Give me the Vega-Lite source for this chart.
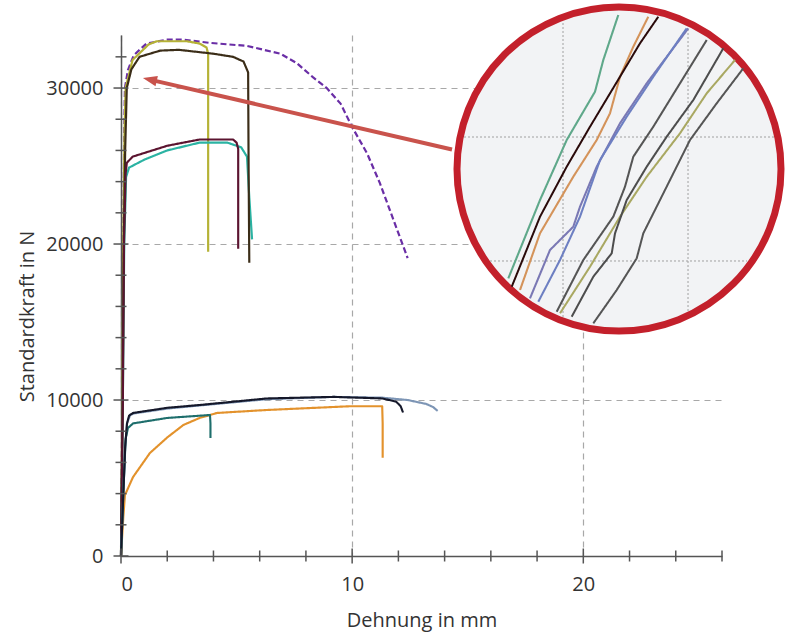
{
  "$schema": "https://vega.github.io/schema/vega-lite/v6.json",
  "autosize": {"type": "none"},
  "width": 601,
  "height": 521,
  "padding": {"left": 121, "top": 35, "right": 75, "bottom": 76},
  "background": "white",
  "config": {
    "view": {"stroke": null},
    "axis": {
      "labelFont": "Open Sans", "labelFontSize": 20, "labelColor": "#333333",
      "titleFont": "Open Sans", "titleFontSize": 20, "titleFontWeight": "normal", "titleColor": "#333333",
      "domainColor": "#555555", "domainWidth": 1.5,
      "gridColor": "#a8a8a8", "gridDash": [6, 5], "gridWidth": 1.2
    }
  },
  "datasets": {
    "main": [
      {"s":"P","i":0,"x":0,"y":0},{"s":"P","i":1,"x":0.06,"y":10000},{"s":"P","i":2,"x":0.1,"y":20000},{"s":"P","i":3,"x":0.14,"y":27000},{"s":"P","i":4,"x":0.17,"y":30000},{"s":"P","i":5,"x":0.3,"y":31150},{"s":"P","i":6,"x":0.55,"y":32100},{"s":"P","i":7,"x":1.1,"y":32850},{"s":"P","i":8,"x":2.0,"y":33100},{"s":"P","i":9,"x":2.7,"y":33100},{"s":"P","i":10,"x":3.8,"y":32900},{"s":"P","i":11,"x":5.45,"y":32700},{"s":"P","i":12,"x":6.9,"y":32200},{"s":"P","i":13,"x":7.6,"y":31600},{"s":"P","i":14,"x":8.3,"y":30700},{"s":"P","i":15,"x":8.9,"y":30000},{"s":"P","i":16,"x":9.5,"y":29000},{"s":"P","i":17,"x":10.0,"y":27500},{"s":"P","i":18,"x":10.65,"y":25800},{"s":"P","i":19,"x":11.2,"y":23900},{"s":"P","i":20,"x":11.8,"y":21500},{"s":"P","i":21,"x":12.4,"y":19100},
      {"s":"Y","i":0,"x":0,"y":0},{"s":"Y","i":1,"x":0.06,"y":10000},{"s":"Y","i":2,"x":0.1,"y":20000},{"s":"Y","i":3,"x":0.15,"y":27000},{"s":"Y","i":4,"x":0.2,"y":30000},{"s":"Y","i":5,"x":0.5,"y":31800},{"s":"Y","i":6,"x":1.2,"y":32800},{"s":"Y","i":7,"x":1.55,"y":33000},{"s":"Y","i":8,"x":2.85,"y":33000},{"s":"Y","i":9,"x":3.4,"y":32850},{"s":"Y","i":10,"x":3.7,"y":32600},{"s":"Y","i":11,"x":3.77,"y":32200},{"s":"Y","i":12,"x":3.77,"y":19500},
      {"s":"T","i":0,"x":0,"y":0},{"s":"T","i":1,"x":0.08,"y":10000},{"s":"T","i":2,"x":0.14,"y":20000},{"s":"T","i":3,"x":0.22,"y":24300},{"s":"T","i":4,"x":0.35,"y":24900},{"s":"T","i":5,"x":1.0,"y":25400},{"s":"T","i":6,"x":2.0,"y":26000},{"s":"T","i":7,"x":3.4,"y":26500},{"s":"T","i":8,"x":4.6,"y":26500},{"s":"T","i":9,"x":5.2,"y":26200},{"s":"T","i":10,"x":5.45,"y":25600},{"s":"T","i":11,"x":5.55,"y":23000},{"s":"T","i":12,"x":5.67,"y":20300},
      {"s":"K","i":0,"x":0,"y":0},{"s":"K","i":1,"x":0.07,"y":10000},{"s":"K","i":2,"x":0.12,"y":20000},{"s":"K","i":3,"x":0.18,"y":26000},{"s":"K","i":4,"x":0.25,"y":30000},{"s":"K","i":5,"x":0.45,"y":31200},{"s":"K","i":6,"x":0.8,"y":32000},{"s":"K","i":7,"x":1.7,"y":32400},{"s":"K","i":8,"x":2.5,"y":32450},{"s":"K","i":9,"x":4.0,"y":32200},{"s":"K","i":10,"x":4.85,"y":32000},{"s":"K","i":11,"x":5.3,"y":31700},{"s":"K","i":12,"x":5.5,"y":31000},{"s":"K","i":13,"x":5.52,"y":25000},{"s":"K","i":14,"x":5.55,"y":18800},
      {"s":"M","i":0,"x":0,"y":0},{"s":"M","i":1,"x":0.08,"y":10000},{"s":"M","i":2,"x":0.13,"y":20000},{"s":"M","i":3,"x":0.2,"y":24500},{"s":"M","i":4,"x":0.25,"y":25200},{"s":"M","i":5,"x":0.5,"y":25600},{"s":"M","i":6,"x":2.0,"y":26300},{"s":"M","i":7,"x":3.4,"y":26700},{"s":"M","i":8,"x":4.85,"y":26700},{"s":"M","i":9,"x":5.0,"y":26500},{"s":"M","i":10,"x":5.07,"y":26100},{"s":"M","i":11,"x":5.07,"y":19700},
      {"s":"O","i":0,"x":0,"y":0},{"s":"O","i":1,"x":0.1,"y":2500},{"s":"O","i":2,"x":0.17,"y":3900},{"s":"O","i":3,"x":0.52,"y":5060},{"s":"O","i":4,"x":1.25,"y":6600},{"s":"O","i":5,"x":2.0,"y":7600},{"s":"O","i":6,"x":2.7,"y":8400},{"s":"O","i":7,"x":3.4,"y":8850},{"s":"O","i":8,"x":4.15,"y":9170},{"s":"O","i":9,"x":6.3,"y":9360},{"s":"O","i":10,"x":9.9,"y":9600},{"s":"O","i":11,"x":11.3,"y":9600},{"s":"O","i":12,"x":11.32,"y":8500},{"s":"O","i":13,"x":11.32,"y":6300},
      {"s":"L","i":0,"x":0,"y":0},{"s":"L","i":1,"x":0.1,"y":4000},{"s":"L","i":2,"x":0.18,"y":7000},{"s":"L","i":3,"x":0.26,"y":8500},{"s":"L","i":4,"x":0.4,"y":9050},{"s":"L","i":5,"x":0.6,"y":9150},{"s":"L","i":6,"x":2.0,"y":9450},{"s":"L","i":7,"x":3.4,"y":9650},{"s":"L","i":8,"x":6.3,"y":10050},{"s":"L","i":9,"x":9.2,"y":10200},{"s":"L","i":10,"x":11.3,"y":10150},{"s":"L","i":11,"x":12.4,"y":10000},{"s":"L","i":12,"x":13.2,"y":9750},{"s":"L","i":13,"x":13.5,"y":9550},{"s":"L","i":14,"x":13.7,"y":9300},
      {"s":"D","i":0,"x":0,"y":0},{"s":"D","i":1,"x":0.1,"y":4000},{"s":"D","i":2,"x":0.2,"y":7500},{"s":"D","i":3,"x":0.3,"y":8200},{"s":"D","i":4,"x":0.52,"y":8500},{"s":"D","i":5,"x":2.0,"y":8850},{"s":"D","i":6,"x":3.85,"y":9040},{"s":"D","i":7,"x":3.87,"y":8500},{"s":"D","i":8,"x":3.87,"y":7560},
      {"s":"B","i":0,"x":0,"y":0},{"s":"B","i":1,"x":0.1,"y":4000},{"s":"B","i":2,"x":0.18,"y":7000},{"s":"B","i":3,"x":0.26,"y":8500},{"s":"B","i":4,"x":0.35,"y":9000},{"s":"B","i":5,"x":0.52,"y":9170},{"s":"B","i":6,"x":2.0,"y":9500},{"s":"B","i":7,"x":3.4,"y":9680},{"s":"B","i":8,"x":6.3,"y":10100},{"s":"B","i":9,"x":9.2,"y":10200},{"s":"B","i":10,"x":11.3,"y":10100},{"s":"B","i":11,"x":11.9,"y":9900},{"s":"B","i":12,"x":12.1,"y":9600},{"s":"B","i":13,"x":12.2,"y":9200}
    ],
    "inset": [
      {"s":"iA","i":0,"x":16.756,"y":17802},{"s":"iA","i":1,"x":18.127,"y":22822},{"s":"iA","i":2,"x":19.282,"y":26669},{"s":"iA","i":3,"x":20.506,"y":29765},{"s":"iA","i":4,"x":20.865,"y":31797},{"s":"iA","i":5,"x":21.514,"y":34682},
      {"s":"iC","i":0,"x":17.262,"y":17052},{"s":"iC","i":1,"x":18.127,"y":20687},{"s":"iC","i":2,"x":19.567,"y":24316},{"s":"iC","i":3,"x":20.58,"y":26669},{"s":"iC","i":4,"x":21.155,"y":28380},{"s":"iC","i":5,"x":21.588,"y":30727},{"s":"iC","i":6,"x":22.163,"y":32650},{"s":"iC","i":7,"x":22.812,"y":34573},
      {"s":"iD","i":0,"x":17.694,"y":16520},{"s":"iD","i":1,"x":18.559,"y":19617},{"s":"iD","i":2,"x":19.567,"y":21110},{"s":"iD","i":3,"x":19.857,"y":22393},{"s":"iD","i":4,"x":20.58,"y":24957},{"s":"iD","i":5,"x":21.588,"y":27739},{"s":"iD","i":6,"x":22.743,"y":30303},{"s":"iD","i":7,"x":24.543,"y":33829},
      {"s":"iE","i":0,"x":18.053,"y":16302},{"s":"iE","i":1,"x":18.992,"y":18976},{"s":"iE","i":2,"x":19.857,"y":21752},{"s":"iE","i":3,"x":20.722,"y":25386},{"s":"iE","i":4,"x":21.878,"y":28162},{"s":"iE","i":5,"x":23.028,"y":30727},{"s":"iE","i":6,"x":24.473,"y":33829},
      {"s":"iF","i":0,"x":18.849,"y":15661},{"s":"iF","i":1,"x":20.0,"y":18976},{"s":"iF","i":2,"x":21.298,"y":21752},{"s":"iF","i":3,"x":21.804,"y":23675},{"s":"iF","i":4,"x":22.163,"y":25598},{"s":"iF","i":5,"x":23.028,"y":27521},{"s":"iF","i":6,"x":24.183,"y":30303},{"s":"iF","i":7,"x":25.339,"y":33079},
      {"s":"iG","i":0,"x":18.992,"y":15559},{"s":"iG","i":1,"x":20.29,"y":18546},{"s":"iG","i":2,"x":21.588,"y":21752},{"s":"iG","i":3,"x":22.743,"y":24316},{"s":"iG","i":4,"x":24.183,"y":27098},{"s":"iG","i":5,"x":25.339,"y":29662},{"s":"iG","i":6,"x":26.563,"y":31797},
      {"s":"iH","i":0,"x":19.498,"y":15341},{"s":"iH","i":1,"x":20.433,"y":17905},{"s":"iH","i":2,"x":21.229,"y":19405},{"s":"iH","i":3,"x":21.372,"y":20687},{"s":"iH","i":4,"x":21.878,"y":22822},{"s":"iH","i":5,"x":22.743,"y":24957},{"s":"iH","i":6,"x":23.608,"y":26880},{"s":"iH","i":7,"x":24.759,"y":29233},{"s":"iH","i":8,"x":26.057,"y":32547},
      {"s":"iI","i":0,"x":20.433,"y":14918},{"s":"iI","i":1,"x":21.445,"y":17052},{"s":"iI","i":2,"x":22.31,"y":19085},{"s":"iI","i":3,"x":22.596,"y":20687},{"s":"iI","i":4,"x":23.318,"y":22822},{"s":"iI","i":5,"x":24.616,"y":26669},{"s":"iI","i":6,"x":25.771,"y":29021},{"s":"iI","i":7,"x":26.922,"y":31265},
      {"s":"iB","i":0,"x":16.903,"y":17264},{"s":"iB","i":1,"x":18.127,"y":21752},{"s":"iB","i":2,"x":19.282,"y":24957},{"s":"iB","i":3,"x":20.29,"y":27521},{"s":"iB","i":4,"x":21.588,"y":30727},{"s":"iB","i":5,"x":22.453,"y":32868},{"s":"iB","i":6,"x":23.245,"y":34573}
    ],
    "igrid": [
      {"x":19.122,"y":15322,"x2":19.122,"y2":34297},
      {"x":24.53,"y":15706,"x2":24.53,"y2":33913},
      {"x":14.839,"y":26861,"x2":28.25,"y2":26861},
      {"x":15.964,"y":18912,"x2":27.082,"y2":18912}
    ],
    "circle": [{"x":21.544,"y":24809}],
    "arrow": [{"x":1.246,"y":30540,"x2":14.32,"y2":26059}],
    "xminor": [{"v":2},{"v":4},{"v":6},{"v":8},{"v":12},{"v":14},{"v":16},{"v":18},{"v":22},{"v":24},{"v":26}],
    "xmajor": [{"v":0},{"v":10},{"v":20}],
    "yminor": [{"v":2000},{"v":4000},{"v":6000},{"v":8000},{"v":12000},{"v":14000},{"v":16000},{"v":18000},{"v":22000},{"v":24000},{"v":26000},{"v":28000},{"v":32000}],
    "ymajor": [{"v":0},{"v":10000},{"v":20000},{"v":30000}]
  },
  "layer": [
    {
      "data": {"name": "main"},
      "mark": {"type": "line", "strokeJoin": "round", "strokeCap": "butt"},
      "encoding": {
        "x": {"field": "x", "type": "quantitative",
          "scale": {"domain": [0, 26], "nice": false, "zero": false},
          "axis": {"title": "Dehnung in mm", "values": [0, 10, 20], "ticks": false, "grid": true, "labelPadding": 18, "titlePadding": 16}},
        "y": {"field": "y", "type": "quantitative",
          "scale": {"domain": [0, 33400], "nice": false, "zero": false},
          "axis": {"title": "Standardkraft in N", "values": [0, 10000, 20000, 30000], "format": "d", "ticks": false, "grid": true, "labelPadding": 18, "titleX": -84, "titleY": 281, "titleBaseline": "bottom", "titleAngle": -90}},
        "order": {"field": "i", "type": "quantitative"},
        "color": {"field": "s", "type": "nominal", "legend": null,
          "scale": {"domain": ["P","Y","T","K","M","O","L","D","B","iA","iC","iD","iE","iF","iG","iH","iI","iB"],
                    "range": ["#6a2ea6","#b5b236","#2bb3a3","#3b2d18","#5b1430","#e3922c","#7d95b5","#1e6e6c","#15182a","#5fa88a","#d4935a","#7a78b4","#6d7fc2","#555555","#a9a862","#4d4d4d","#555555","#2a0a0a"]}},
        "size": {"field": "s", "type": "nominal", "legend": null,
          "scale": {"domain": ["P","Y","T","K","M","O","L","D","B","iA","iC","iD","iE","iF","iG","iH","iI","iB"],
                    "range": [2.2, 2, 2, 2.2, 2.2, 1.6, 1.6, 2, 2.6, 1.1, 0.9, 0.9, 0.9, 0.9, 0.9, 0.9, 0.9, 2.4]}},
        "strokeDash": {"field": "s", "type": "nominal", "legend": null,
          "scale": {"domain": ["P","Y","T","K","M","O","L","D","B","iA","iC","iD","iE","iF","iG","iH","iI","iB"],
                    "range": [[6,3],[1,0],[1,0],[1,0],[1,0],[1,0],[1,0],[1,0],[1,0],[1,0],[1,0],[1,0],[1,0],[1,0],[1,0],[1,0],[1,0],[1,0]]}}
      }
    },
    {
      "data": {"name": "xminor"},
      "mark": {"type": "tick", "orient": "vertical", "color": "#555555", "thickness": 1.5, "size": 11, "opacity": 1},
      "encoding": {"x": {"field": "v", "type": "quantitative"}, "y": {"datum": 0}}
    },
    {
      "data": {"name": "xmajor"},
      "mark": {"type": "tick", "orient": "vertical", "color": "#555555", "thickness": 1.5, "size": 15, "opacity": 1},
      "encoding": {"x": {"field": "v", "type": "quantitative"}, "y": {"datum": 0}}
    },
    {
      "data": {"name": "yminor"},
      "mark": {"type": "tick", "orient": "horizontal", "color": "#555555", "thickness": 1.5, "size": 11, "opacity": 1},
      "encoding": {"y": {"field": "v", "type": "quantitative"}, "x": {"datum": 0}}
    },
    {
      "data": {"name": "ymajor"},
      "mark": {"type": "tick", "orient": "horizontal", "color": "#555555", "thickness": 1.5, "size": 15, "opacity": 1},
      "encoding": {"y": {"field": "v", "type": "quantitative"}, "x": {"datum": 0}}
    },
    {
      "data": {"name": "circle"},
      "mark": {"type": "point", "shape": "circle", "size": 104976, "fill": "#f2f3f5", "stroke": "#c3202b", "strokeWidth": 7, "opacity": 1, "fillOpacity": 1, "strokeOpacity": 1, "filled": false},
      "encoding": {"x": {"field": "x", "type": "quantitative"}, "y": {"field": "y", "type": "quantitative"}}
    },
    {
      "data": {"name": "igrid"},
      "mark": {"type": "rule", "color": "#a0a0a0", "strokeWidth": 1, "strokeDash": [2, 2]},
      "encoding": {"x": {"field": "x", "type": "quantitative"}, "y": {"field": "y", "type": "quantitative"}, "x2": {"field": "x2"}, "y2": {"field": "y2"}}
    },
    {
      "data": {"name": "inset"},
      "mark": {"type": "line", "strokeJoin": "round"},
      "encoding": {
        "x": {"field": "x", "type": "quantitative"},
        "y": {"field": "y", "type": "quantitative"},
        "order": {"field": "i", "type": "quantitative"},
        "color": {"field": "s", "type": "nominal", "legend": null,
          "scale": {"domain": ["P","Y","T","K","M","O","L","D","B","iA","iC","iD","iE","iF","iG","iH","iI","iB"],
                    "range": ["#6a2ea6","#b5b236","#2bb3a3","#3b2d18","#5b1430","#e3922c","#7d95b5","#1e6e6c","#15182a","#5fa88a","#d4935a","#7a78b4","#6d7fc2","#555555","#a9a862","#4d4d4d","#555555","#2a0a0a"]}},
        "size": {"field": "s", "type": "nominal", "legend": null,
          "scale": {"domain": ["P","Y","T","K","M","O","L","D","B","iA","iC","iD","iE","iF","iG","iH","iI","iB"],
                    "range": [2.2, 2, 2, 2.2, 2.2, 1.6, 1.6, 2, 2.6, 1.1, 0.9, 0.9, 0.9, 0.9, 0.9, 0.9, 0.9, 2.4]}},
        "strokeDash": {"field": "s", "type": "nominal", "legend": null,
          "scale": {"domain": ["P","Y","T","K","M","O","L","D","B","iA","iC","iD","iE","iF","iG","iH","iI","iB"],
                    "range": [[6,3],[1,0],[1,0],[1,0],[1,0],[1,0],[1,0],[1,0],[1,0],[1,0],[1,0],[1,0],[1,0],[1,0],[1,0],[1,0],[1,0],[1,0]]}}
      }
    },
    {
      "data": {"name": "arrow"},
      "mark": {"type": "rule", "color": "#c9534c", "strokeWidth": 4, "strokeCap": "butt"},
      "encoding": {"x": {"field": "x", "type": "quantitative"}, "y": {"field": "y", "type": "quantitative"}, "x2": {"field": "x2"}, "y2": {"field": "y2"}}
    },
    {
      "data": {"name": "arrow"},
      "mark": {"type": "point", "shape": "M-1,0L1,-0.75L1,0.75Z", "size": 200, "angle": 13, "filled": true, "color": "#c9534c", "opacity": 1},
      "encoding": {"x": {"field": "x", "type": "quantitative"}, "y": {"field": "y", "type": "quantitative"}}
    }
  ]
}
